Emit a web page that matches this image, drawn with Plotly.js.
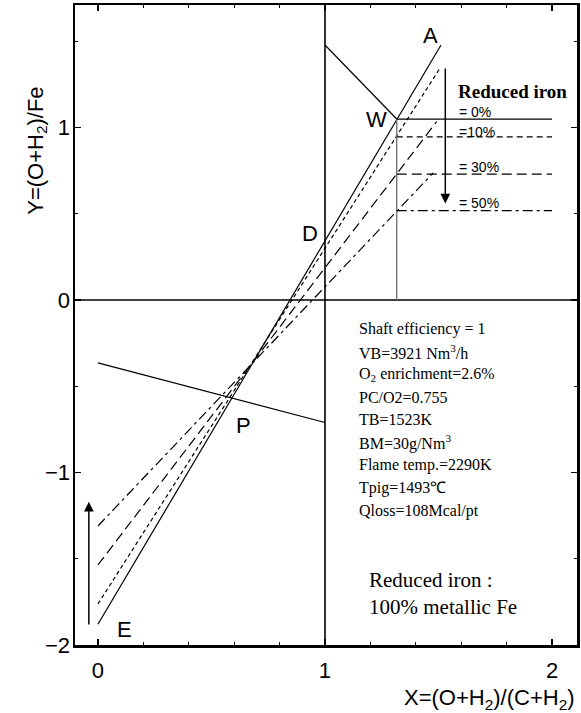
<!DOCTYPE html>
<html>
<head>
<meta charset="utf-8">
<script src="https://cdn.plot.ly/plotly-3.0.1.min.js"></script>
<style>html,body{margin:0;padding:0;background:#fff;}#chart{width:581px;height:713px;}</style>
</head>
<body>
<div id="chart"></div>
<script>
// ---- data ----
const lineOpX = [0, 1.511];            // operating line (0 %)
const lineOpY = [-1.88, 1.478];
const line10X = [0, 1.507];
const line10Y = [-1.762, 1.345];
const line30X = [0, 1.492];
const line30Y = [-1.536, 1.034];
const line50X = [0, 1.476];
const line50Y = [-1.31, 0.736];
const levelNames = ['= 0%', '=10%', '= 30%', '= 50%'];
const levelY = [1.049, 0.945, 0.730, 0.518];
const levelX0 = 1.316, levelX1 = 2.0;
const wLineX = [1.0, 1.316];
const wLineY = [1.478, 1.049];
const pLineX = [0, 1.0];
const pLineY = [-0.365, -0.71];
const xTicks = [0, 1, 2];
const yTicks = [-2, -1, 0, 1];
const pointNames = ['A', 'W', 'D', 'P', 'E'];
const pointX = [1.465, 1.228, 0.932, 0.639, 0.115];
const pointY = [1.536, 1.049, 0.386, -0.725, -1.913];
const infoLines = ['Shaft efficiency = 1', 'VB=3921 Nm<sup>3</sup>/h', 'O<sub>2</sub> enrichment=2.6%',
  'PC/O2=0.755', 'TB=1523K', 'BM=30g/Nm<sup>3</sup>', 'Flame temp.=2290K', 'Tpig=1493\u2103', 'Qloss=108Mcal/pt'];
const noteLines = ['Reduced iron :', '100% metallic Fe'];

const xr = [-0.101, 2.11], yr = [-2.0, 1.71];
const sans = 'Liberation Sans, Arial, sans-serif';
const serif = 'Liberation Serif, Times New Roman, serif';

const traces = [];
function ln(x, y, dash, color, width) {
  traces.push({x: x, y: y, mode: 'lines', type: 'scatter', hoverinfo: 'skip', showlegend: false,
    line: {color: color || '#000', width: width || 1.2, dash: dash || 'solid'}});
}
// axes cross lines
ln([1, 1], yr, 'solid', '#000', 1.6);
ln(xr, [0, 0], 'solid', '#000', 1.6);
ln(lineOpX, lineOpY, 'solid');
ln(line10X, line10Y, '4px,3px');
ln(line30X, line30Y, '10px,5px');
ln(line50X, line50Y, '10px,4px,3px,4px');
ln(wLineX, wLineY, 'solid');
ln(pLineX, pLineY, 'solid');
ln([levelX0, levelX0], [0, levelY[0]], 'solid', '#777', 1.4);
const levelDash = ['solid', '6px,4px', '10px,5px', '10px,4px,3px,4px'];
levelY.forEach((v, i) => ln([levelX0, levelX1], [v, v], levelDash[i]));

const ann = [];
pointNames.forEach((t, i) => ann.push({x: pointX[i], y: pointY[i], text: t, showarrow: false,
  font: {family: sans, size: 22, color: '#000'}}));
levelNames.forEach((t, i) => ann.push({x: 1.581, y: [1.09, 0.975, 0.77, 0.562][i], text: t, showarrow: false,
  xanchor: 'left', font: {family: sans, size: 14, color: '#000'}}));
ann.push({x: 1.824, y: 1.206, text: '<b>Reduced iron</b>', showarrow: false,
  font: {family: serif, size: 19, color: '#000'}});
infoLines.forEach((t, i) => ann.push({x: 1.141, y: -0.168 - i * 0.1316, text: t, showarrow: false,
  xanchor: 'left', font: {family: serif, size: 16, color: '#000'}}));
noteLines.forEach((t, i) => ann.push({x: 1.185, y: -1.623 - i * 0.157, text: t, showarrow: false,
  xanchor: 'left', font: {family: serif, size: 21, color: '#000'}}));
// arrows
ann.push({x: 1.53, y: 0.56, ax: 1.53, ay: 1.35, axref: 'x', ayref: 'y', text: '', showarrow: true,
  arrowhead: 2, arrowsize: 1.3, arrowwidth: 1.5, arrowcolor: '#000'});
ann.push({x: -0.04, y: -1.17, ax: -0.04, ay: -1.89, axref: 'x', ayref: 'y', text: '', showarrow: true,
  arrowhead: 2, arrowsize: 1.3, arrowwidth: 1.5, arrowcolor: '#000'});
// axis titles
ann.push({xref: 'paper', yref: 'paper', x: -0.108, y: 0.875, text: 'Y=(O+H<sub>2</sub>)/Fe', textangle: -90,
  showarrow: false, font: {family: sans, size: 22, color: '#000'}});
ann.push({xref: 'paper', yref: 'paper', x: 1.0, y: -0.085, xanchor: 'right', yanchor: 'middle',
  text: 'X=(O+H<sub>2</sub>)/(C+H<sub>2</sub>)', showarrow: false, font: {family: sans, size: 22, color: '#000'}});

const axisCommon = {showgrid: false, zeroline: false, showline: true, linecolor: '#000', linewidth: 2.5,
  mirror: 'ticks', ticks: 'inside', ticklen: 6, tickwidth: 1.5, tickcolor: '#000',
  tickfont: {family: sans, size: 22, color: '#000'}, fixedrange: true};

const layout = {
  width: 581, height: 713,
  margin: {l: 75, r: 4, t: 5, b: 68},
  paper_bgcolor: '#fff', plot_bgcolor: '#fff',
  showlegend: false,
  xaxis: Object.assign({}, axisCommon, {range: xr, tickvals: xTicks, ticktext: xTicks.map(String),
    ticklabelstandoff: 4,
    minor: {dtick: 0.2, tick0: 0, ticks: 'inside', ticklen: 3, tickcolor: '#000', tickwidth: 1}}),
  yaxis: Object.assign({}, axisCommon, {range: yr, tickvals: yTicks, ticklabelstandoff: -2,
    minor: {dtick: 0.5, tick0: 0, ticks: 'inside', ticklen: 3, tickcolor: '#000', tickwidth: 1}}),
  annotations: ann
};
Plotly.newPlot('chart', traces, layout, {displayModeBar: false, staticPlot: true});
</script>
</body>
</html>
